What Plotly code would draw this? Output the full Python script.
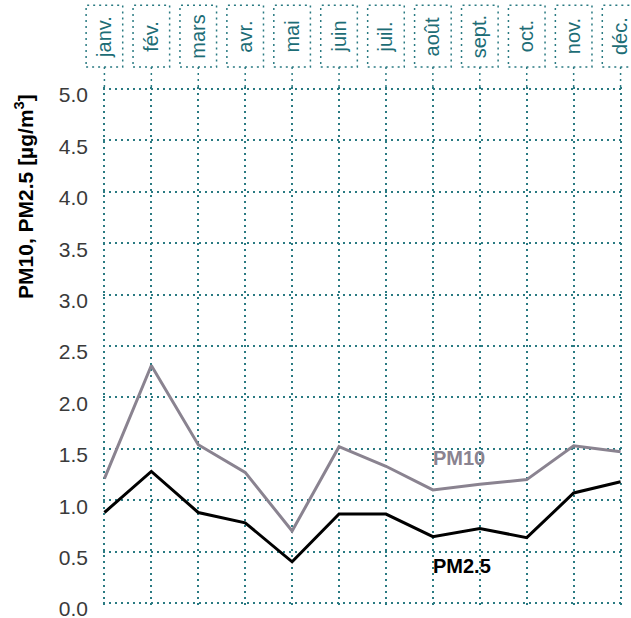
import plotly.graph_objects as go

months = ["janv.", "fév.", "mars", "avr.", "mai", "juin", "juil.", "août", "sept.", "oct.", "nov.", "déc."]
pm10 = [1.21, 2.31, 1.54, 1.27, 0.70, 1.52, 1.33, 1.10, 1.155, 1.20, 1.53, 1.47]
pm25 = [0.88, 1.28, 0.88, 0.78, 0.40, 0.865, 0.865, 0.645, 0.725, 0.635, 1.07, 1.18]
y_ticks = [0.0, 0.5, 1.0, 1.5, 2.0, 2.5, 3.0, 3.5, 4.0, 4.5, 5.0]

TEAL = "#1d6d76"
GRID = "#2a7a82"
PM10_COLOR = "#8a8390"
FONT = "Liberation Sans"
DOT = "2px,4px"

x = list(range(len(months)))
n = len(months)
XR = [-0.03, n - 1 + 0.03]
YR = [-0.02, 5.02]


def xpaper(v):
    return (v - XR[0]) / (XR[1] - XR[0])


fig = go.Figure()
fig.add_trace(go.Scatter(x=x, y=pm10, mode="lines", name="PM10",
                         line=dict(color=PM10_COLOR, width=3), showlegend=False))
fig.add_trace(go.Scatter(x=x, y=pm25, mode="lines", name="PM2.5",
                         line=dict(color="black", width=3), showlegend=False))

shapes = []
annotations = []
for i, m in enumerate(months):
    xc = xpaper(i)
    half = xpaper(i + 0.39) - xc
    shapes.append(dict(type="rect", xref="paper", yref="paper",
                       x0=xc - half, x1=xc + half, y0=1.0386, y1=1.158,
                       line=dict(color=GRID, width=1.5, dash=DOT), layer="above"))
    shapes.append(dict(type="line", xref="paper", yref="paper",
                       x0=xc, x1=xc, y0=1.0, y1=1.0386,
                       line=dict(color=GRID, width=1.5, dash=DOT)))
    annotations.append(dict(x=i, xref="x", y=1.0975, yref="paper", text=m,
                            textangle=-90, showarrow=False, xanchor="center", yanchor="middle",
                            font=dict(family=FONT, size=20, color=TEAL)))

annotations.append(dict(x=-0.152, xref="paper", y=0.788, yref="paper",
                        text="<b>PM10, PM2.5 [µg/m<sup>3</sup>]</b>", textangle=-90,
                        showarrow=False, xanchor="center", yanchor="middle",
                        font=dict(family=FONT, size=21, color="black")))
annotations.append(dict(x=7, xref="x", y=1.41, yref="y", text="<b>PM10</b>",
                        showarrow=False, xanchor="left", yanchor="middle", xshift=-2,
                        font=dict(family=FONT, size=20, color=PM10_COLOR)))
annotations.append(dict(x=7, xref="x", y=0.36, yref="y", text="<b>PM2.5</b>",
                        showarrow=False, xanchor="left", yanchor="middle", xshift=-2,
                        font=dict(family=FONT, size=20, color="black")))

fig.update_layout(
    width=631, height=618,
    margin=dict(l=103, r=9, t=87, b=13, autoexpand=False),
    plot_bgcolor="white", paper_bgcolor="white",
    shapes=shapes, annotations=annotations,
    xaxis=dict(range=XR, tickvals=x, showticklabels=False, showgrid=True,
               gridcolor=GRID, gridwidth=1.5, griddash=DOT, zeroline=False,
               showline=False, ticks="", automargin=False),
    yaxis=dict(range=YR, tickvals=y_ticks, tickformat=".1f", showgrid=True,
               gridcolor=GRID, gridwidth=1.5, griddash=DOT, zeroline=False,
               showline=False, ticks="", ticklabelstandoff=14, ticklabelshift=6,
               ticklabeloverflow="allow", automargin=False,
               tickfont=dict(family=FONT, size=21, color="#3a3a3a")),
)

fig.write_html("out.html", config={"displayModeBar": False},
               post_script="document.body.style.margin='0';")
